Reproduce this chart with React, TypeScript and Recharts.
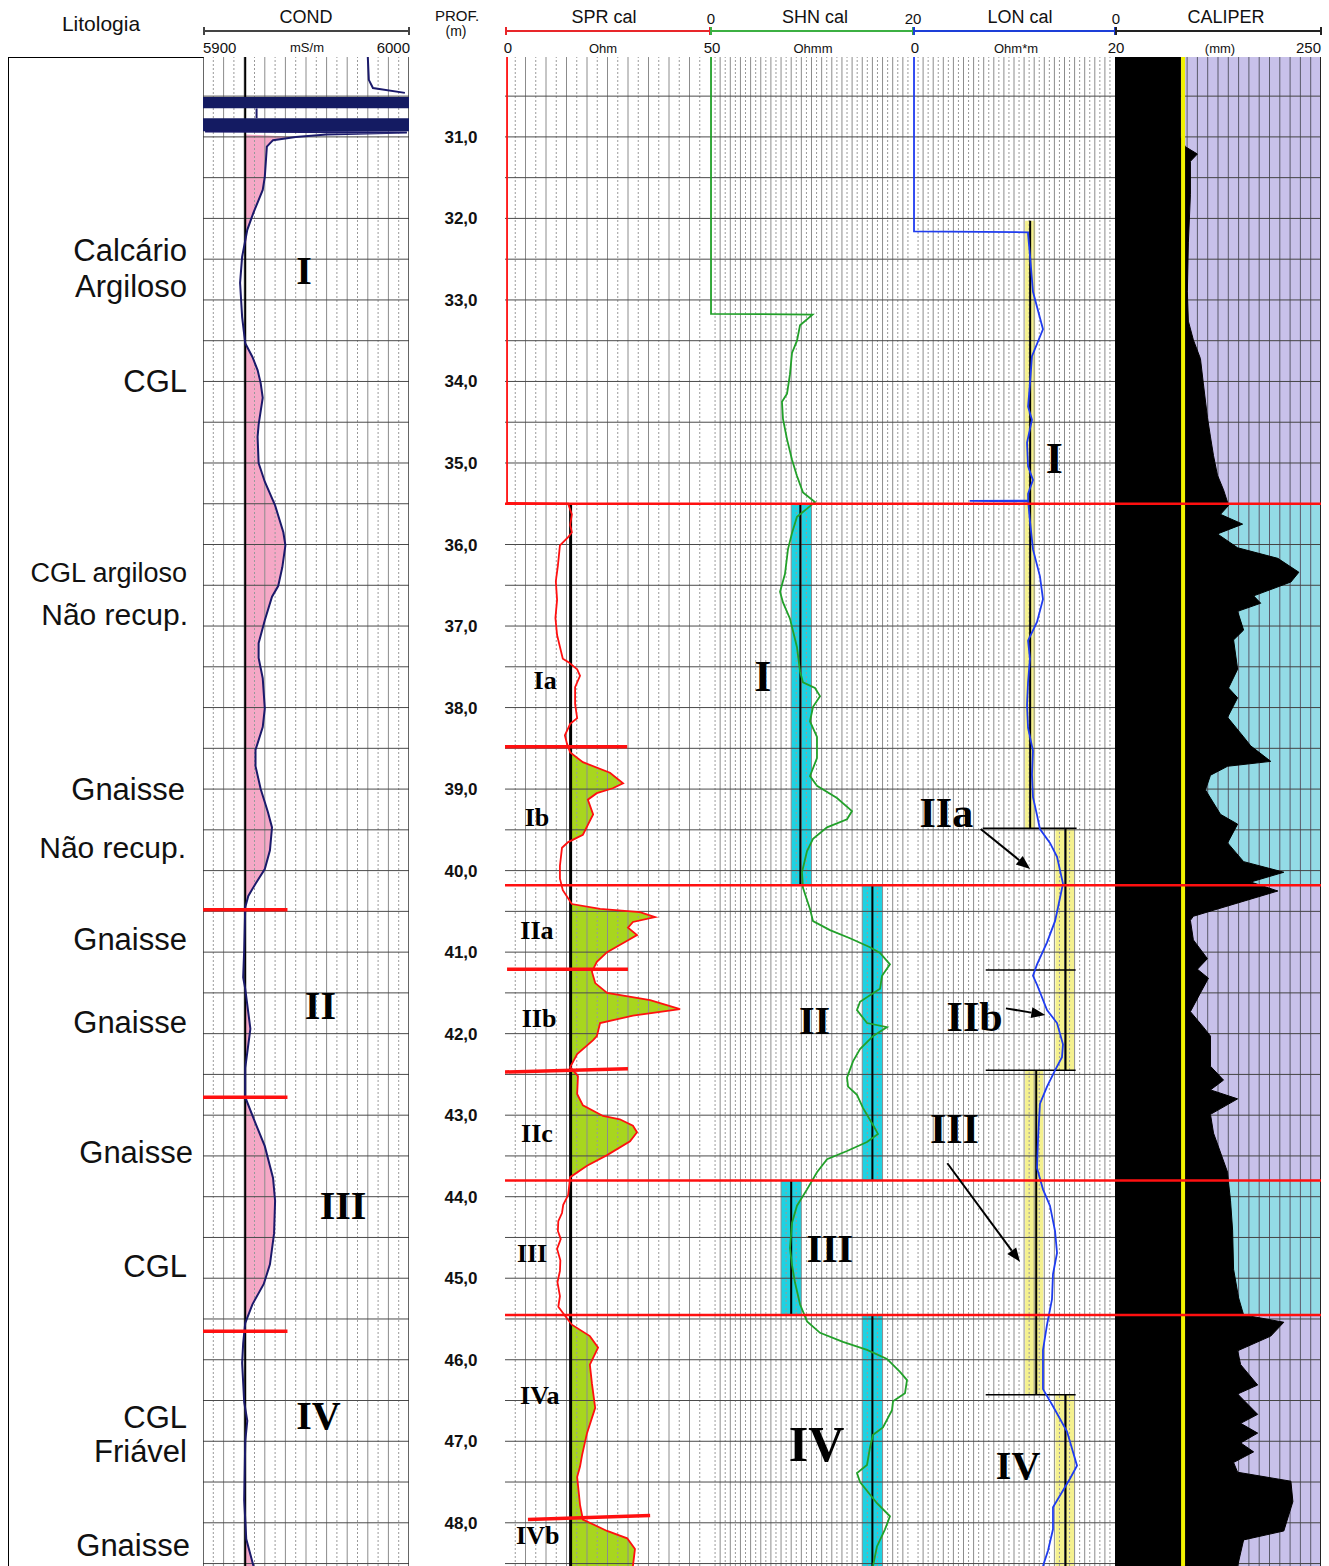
import React from 'react';
import {
  ComposedChart,
  Line,
  Area,
  XAxis,
  YAxis,
  ReferenceLine,
  ReferenceArea,
  ReferenceDot,
} from 'recharts';

// depth window of the plot (m)
const TOP = 30.02;
const BOTTOM = 48.53;
const PLOT_H = 1509;

const SANS = "'Liberation Sans', Arial, sans-serif";
const SERIF = "'Liberation Serif', 'Times New Roman', serif";

// [depth (m), value]
const condTopLog: [number, number][] = [
  [30.02, 5980], [30.3, 5980.5], [30.4, 5982.5], [30.46, 5998],
];

const condLog: [number, number][] = [
  [30.935, 5901], [30.945, 5999], [30.97, 5960], [31.0, 5945], [31.04, 5934],
  [31.12, 5931], [31.49, 5930], [31.65, 5929], [31.93, 5924.5], [32.14, 5921.5],
  [32.47, 5919], [32.79, 5918], [33.21, 5919], [33.53, 5920.5], [33.7, 5924],
  [33.86, 5926.5], [34.02, 5928], [34.2, 5929], [34.53, 5927], [34.68, 5926.5],
  [35.0, 5927], [35.23, 5930], [35.52, 5935], [35.85, 5939], [36.01, 5940],
  [36.28, 5938.5], [36.51, 5936.5], [36.64, 5933.5], [36.93, 5930], [37.21, 5927],
  [37.39, 5927], [37.64, 5929], [38.01, 5930], [38.24, 5929], [38.52, 5925.5],
  [38.72, 5925.5], [39.0, 5928], [39.28, 5931.5], [39.47, 5933.5], [39.75, 5932.5],
  [39.98, 5930], [40.16, 5925.5], [40.31, 5922], [40.45, 5920.5], [40.97, 5920],
  [41.31, 5919.5], [41.45, 5920.5], [41.94, 5923], [42.23, 5921.5], [42.42, 5920.5],
  [42.78, 5920.5], [43.1, 5925.5], [43.38, 5930], [43.77, 5934], [44.05, 5935],
  [44.45, 5934.5], [44.83, 5932.5], [45.07, 5929.5], [45.32, 5924], [45.55, 5920.5],
  [45.8, 5919.5], [46.04, 5919], [46.52, 5920], [46.75, 5921.5], [47.0, 5920.5],
  [47.72, 5920], [48.2, 5921], [48.53, 5924.5],
];

const sprLog: [number, number][] = [
  [30.02, 0.5], [35.49, 0.5], [35.5, 15.4], [35.63, 16.3], [35.76, 15.9], [35.85, 16.3],
  [35.91, 15.4], [36.01, 13.4], [36.26, 12.9], [36.45, 12.4], [36.68, 12.7], [36.9, 12.3],
  [37.11, 12.7], [37.4, 14.1], [37.44, 15.4], [37.53, 17.6], [37.61, 18.3], [37.75, 17.1],
  [37.96, 17.1], [38.13, 17.6], [38.2, 15.9], [38.34, 14.6], [38.44, 15.1], [38.55, 15.9],
  [38.67, 19.0], [38.8, 25.6], [38.93, 28.8], [38.99, 26.3], [39.05, 22.4], [39.13, 20.2],
  [39.31, 21.5], [39.39, 20.7], [39.56, 19.0], [39.65, 15.4], [39.72, 13.9], [39.94, 13.4],
  [40.1, 13.4], [40.24, 14.1], [40.41, 16.3], [40.47, 23.2], [40.51, 32.9], [40.57, 36.6],
  [40.63, 31.2], [40.7, 30.0], [40.79, 32.2], [40.86, 29.8], [41.0, 24.9], [41.12, 22.4],
  [41.24, 21.2], [41.38, 22.0], [41.5, 24.9], [41.59, 35.4], [41.7, 42.7], [41.78, 31.2],
  [41.87, 23.2], [42.03, 22.4], [42.08, 21.5], [42.25, 17.6], [42.41, 15.9], [42.52, 17.8],
  [42.74, 17.6], [42.88, 19.0], [43.01, 23.9], [43.05, 28.0], [43.13, 31.2], [43.21, 32.2],
  [43.32, 30.5], [43.49, 24.9], [43.62, 20.0], [43.76, 15.9], [43.98, 15.4], [44.1, 14.2],
  [44.2, 13.9], [44.3, 13.0], [44.42, 12.9], [44.52, 13.6], [44.64, 12.7], [44.78, 13.5],
  [44.91, 13.4], [45.05, 12.8], [45.22, 13.4], [45.35, 13.0], [45.49, 15.1], [45.57, 16.3],
  [45.71, 20.7], [45.85, 22.7], [46.06, 20.7], [46.29, 21.2], [46.59, 22.0], [46.9, 20.0],
  [47.17, 18.8], [47.31, 18.3], [47.44, 17.6], [47.78, 18.3], [47.96, 19.0], [48.1, 24.9],
  [48.19, 29.8], [48.32, 31.7], [48.53, 31.2],
];

const shnLog: [number, number][] = [
  [30.02, 0.1], [33.17, 0.1], [33.18, 10.1], [33.31, 8.87], [33.5, 8.57], [33.65, 8.08],
  [33.91, 7.88], [34.15, 7.59], [34.25, 7.09], [34.46, 7.19], [34.71, 7.59], [34.96, 8.08],
  [35.16, 8.57], [35.36, 9.16], [35.48, 10.34], [35.56, 9.56], [35.66, 8.57], [35.86, 8.08],
  [36.06, 7.68], [36.36, 7.39], [36.58, 6.9], [36.71, 7.19], [36.91, 7.88], [37.26, 8.57],
  [37.56, 8.87], [37.69, 9.16], [37.76, 10.34], [37.86, 10.84], [37.99, 10.15], [38.17, 9.85],
  [38.36, 10.54], [38.62, 10.54], [38.84, 9.85], [38.96, 10.54], [39.11, 12.51], [39.27, 13.99],
  [39.37, 13.5], [39.47, 11.53], [39.61, 10.15], [39.76, 9.56], [40.02, 9.06], [40.21, 9.16],
  [40.47, 9.85], [40.62, 10.15], [40.73, 11.82], [40.83, 13.79], [40.94, 15.76], [41.01, 16.75],
  [41.15, 17.73], [41.29, 16.95], [41.45, 16.75], [41.61, 14.78], [41.71, 14.48], [41.87, 15.47],
  [41.92, 17.44], [42.03, 16.06], [42.19, 14.78], [42.34, 14.09], [42.54, 13.5], [42.65, 13.6],
  [42.75, 14.48], [42.91, 15.07], [43.12, 16.06], [43.23, 16.55], [43.33, 15.47], [43.44, 13.5],
  [43.54, 11.53], [43.7, 10.54], [43.91, 9.56], [44.11, 8.57], [44.32, 8.08], [44.63, 7.88],
  [44.84, 8.08], [45.05, 8.37], [45.32, 8.87], [45.53, 9.56], [45.67, 10.84], [45.78, 13.1],
  [45.88, 15.47], [45.99, 17.44], [46.15, 18.72], [46.25, 19.41], [46.41, 19.21], [46.51, 18.03],
  [46.62, 17.93], [46.83, 17.04], [46.92, 16.06], [47.08, 15.76], [47.29, 15.47], [47.39, 14.48],
  [47.5, 14.78], [47.76, 16.45], [47.92, 17.73], [48.08, 17.24], [48.29, 16.45], [48.53, 16.06],
];

const lonLog: [number, number][] = [
  [30.02, 0.1], [32.16, 0.1], [32.17, 11.4], [32.19, 11.39], [32.45, 11.58], [32.9, 11.88],
  [33.36, 12.87], [33.69, 11.78], [34.03, 11.58], [34.31, 11.39], [34.47, 11.78], [34.75, 11.29],
  [35.04, 11.39], [35.21, 11.88], [35.38, 11.39], [35.46, 11.4], [35.465, 5.6], [35.47, 11.4],
  [35.71, 11.58], [36.06, 11.88], [36.39, 12.57], [36.67, 12.87], [36.95, 12.28], [37.18, 11.39],
  [37.4, 11.58], [37.69, 11.39], [37.97, 11.29], [38.25, 11.39], [38.53, 11.88], [38.82, 11.78],
  [39.1, 11.88], [39.32, 12.28], [39.49, 12.57], [39.66, 13.56], [39.83, 14.26], [40.16, 14.85],
  [40.45, 14.36], [40.62, 14.06], [40.88, 13.27], [41.15, 12.28], [41.29, 11.88], [41.4, 12.28],
  [41.71, 13.27], [41.87, 14.26], [42.13, 14.85], [42.29, 14.75], [42.45, 14.06], [42.65, 13.27],
  [42.86, 12.57], [43.28, 12.38], [43.65, 12.28], [43.91, 12.87], [44.11, 13.56], [44.42, 14.06],
  [44.69, 14.26], [44.95, 13.86], [45.26, 13.76], [45.57, 13.27], [45.88, 12.87], [46.36, 12.87],
  [46.57, 13.86], [46.88, 15.25], [47.3, 16.24], [47.46, 15.54], [47.81, 13.86], [48.08, 13.86],
  [48.34, 13.37], [48.53, 12.87],
];

const caliperLog: [number, number][] = [
  [30.02, 93], [31.0, 93], [31.12, 98.5], [31.21, 112], [31.3, 104.2], [31.71, 104.2],
  [32.3, 101.9], [32.9, 100.8], [33.26, 101.9], [33.49, 107.5], [33.72, 115.4], [34.03, 118.7],
  [34.44, 123.2], [34.68, 126.6], [34.91, 130], [35.15, 134.4], [35.33, 141.2], [35.52, 146.8],
  [35.63, 137.8], [35.75, 162.5], [35.87, 134.4], [36.04, 156.9], [36.17, 201.8], [36.34, 225.3],
  [36.46, 216.4], [36.63, 174.8], [36.72, 182.7], [36.82, 156.9], [37.05, 163.6], [37.17, 152.4],
  [37.53, 156.9], [37.76, 146.8], [37.88, 156.9], [38.12, 145.7], [38.36, 163.6], [38.47, 171.5],
  [38.66, 193.9], [38.72, 145.7], [38.83, 126.6], [39.01, 121], [39.31, 137.8], [39.43, 156.9],
  [39.66, 145.7], [39.89, 163.6], [40.02, 208.5], [40.14, 171.5], [40.25, 201.8], [40.56, 107.5],
  [40.61, 104.2], [40.85, 107.5], [41.08, 123.2], [41.21, 112], [41.32, 124.3], [41.5, 115.4],
  [41.73, 104.2], [41.92, 118.7], [42.03, 126.6], [42.4, 126.6], [42.57, 141.2], [42.69, 126.6],
  [42.8, 156.9], [42.99, 126.6], [43.22, 130], [43.7, 145.7], [43.83, 146.8], [44.05, 149],
  [44.41, 151.3], [44.89, 152.4], [45.24, 158], [45.45, 163.6], [45.54, 208.5], [45.71, 193.9],
  [45.89, 156.9], [46.06, 160.3], [46.31, 179.3], [46.42, 156.9], [46.67, 179.3], [46.78, 160.3],
  [46.9, 179.3], [47.02, 160.3], [47.13, 174.8], [47.26, 152.4], [47.38, 156.9], [47.49, 216.4],
  [47.74, 218.6], [48.1, 208.5], [48.21, 163.6], [48.53, 156.9],
];

const condBase = 5920.5;
const sprBase = 16;
const bitSize = 96;
const sprFillZones: [number, number][] = [[38.55, 39.7], [40.3, 43.8], [45.45, 48.53]];
const zoneBounds = [35.5, 40.18, 43.8, 45.45];
const condMarks = [40.48, 42.78, 45.65];
const sprMarks: [number, number, number, number][] = [
  [0, 38.48, 29.8, 38.48], [0.5, 41.21, 30, 41.21], [0, 42.47, 30, 42.43], [5.6, 47.96, 35.4, 47.91],
];
// [from, to, low, high, centre]
const shnBands: [number, number, number, number, number][] = [
  [35.5, 40.18, 8, 10, 8.9], [40.18, 43.8, 15, 17, 16], [43.8, 45.45, 7, 9, 8], [45.45, 48.53, 15, 17, 16],
];
const lonBands: [number, number, number, number, number][] = [
  [32.03, 39.48, 11.1, 12.1, 11.6], [39.48, 42.45, 14.1, 16.0, 15.1],
  [42.45, 46.43, 11.1, 12.9, 12.2], [46.43, 48.53, 14.1, 16.0, 15.1],
];
const lonTicks: [number, number, number][] = [[39.48, 6.9, 16.2], [41.22, 7.2, 16.1], [42.45, 7.2, 16.1], [46.43, 7.2, 16.1]];
const lonArrows: [number, number, number, number][] = [
  [6.7, 39.49, 11.6, 39.98], [9.2, 41.69, 13.1, 41.77], [3.4, 43.59, 10.6, 44.8],
];
const caliperWashouts: [number, number][] = [[35.5, 40.18], [43.8, 45.45]];
const depthTicks = [31, 32, 33, 34, 35, 36, 37, 38, 39, 40, 41, 42, 43, 44, 45, 46, 47, 48];

// [text, value, depth, size]
const condLabels: [string, number, number, number][] = [
  ['I', 5949, 32.63, 40], ['II', 5957, 41.65, 40], ['III', 5968, 44.1, 40], ['IV', 5956, 46.68, 40],
];
const sprLabels: [string, number, number, number][] = [
  ['Ia', 9.8, 37.66, 26], ['Ib', 7.8, 39.34, 26], ['IIa', 7.8, 40.73, 26], ['IIb', 8.3, 41.8, 26],
  ['IIc', 7.8, 43.21, 26], ['III', 6.6, 44.69, 26], ['IVa', 8.5, 46.43, 26], ['IVb', 8.0, 48.15, 26],
];
const shnLabels: [string, number, number, number][] = [
  ['I', 5.2, 37.6, 44], ['II', 10.3, 41.83, 40], ['III', 11.8, 44.63, 40], ['IV', 10.5, 47.03, 50],
];
const lonLabels: [string, number, number, number][] = [
  ['I', 14.0, 34.93, 44], ['IIa', 3.3, 39.28, 42], ['IIb', 6.1, 41.78, 42], ['III', 4.1, 43.16, 42], ['IV', 10.4, 47.29, 40],
];

// [text, right edge, centre y, size]
const lithology: [string, number, number, number][] = [
  ['Calcário', 187, 250, 31], ['Argiloso', 187, 286, 31], ['CGL', 187, 381, 31], ['CGL argiloso', 187, 573, 27],
  ['Não recup.', 188, 615, 30], ['Gnaisse', 185, 789, 31], ['Não recup.', 186, 848, 30], ['Gnaisse', 187, 939, 31],
  ['Gnaisse', 187, 1022, 31], ['Gnaisse', 193, 1152, 31], ['CGL', 187, 1266, 31], ['CGL', 187, 1417, 31],
  ['Friável', 187, 1451, 31], ['Gnaisse', 190, 1545, 31],
];

const RED = '#ff1010';

const vGrid = (key: string, min: number, max: number, step: number, solidEvery: number, solid = '#8c8c8c', dotted = '#9a9a9a') => {
  const out: React.ReactElement[] = [];
  const n = Math.round((max - min) / step);
  for (let i = 1; i < n; i++) {
    const isSolid = i % solidEvery === 0;
    out.push(
      <ReferenceLine
        key={`${key}v${i}`}
        x={min + i * step}
        stroke={isSolid ? solid : dotted}
        strokeWidth={1}
        strokeDasharray={isSolid ? undefined : '2 2'}
        zIndex={-200}
      />
    );
  }
  return out;
};

const hGrid = (key: string, color = '#4a4a4a') => {
  const out: React.ReactElement[] = [];
  for (let d = 30.5; d <= 48.5; d += 0.5) {
    out.push(<ReferenceLine key={`${key}h${d}`} y={d} stroke={color} strokeWidth={1} zIndex={-190} />);
  }
  return out;
};

const labelDots = (key: string, list: [string, number, number, number][]) =>
  list.map(([text, v, d, size], i) => (
    <ReferenceDot
      key={`${key}l${i}`}
      x={v}
      y={d}
      r={0}
      fill="none"
      stroke="none"
      zIndex={2000}
      label={{ value: text, position: 'center', fontFamily: SERIF, fontWeight: 'bold', fontSize: size, fill: '#000' }}
    />
  ));

const redLines = (key: string) =>
  zoneBounds.map((d) => <ReferenceLine key={`${key}r${d}`} y={d} stroke={RED} strokeWidth={2.5} zIndex={900} />);

const arrowShape = (p: any) => {
  const { x1, y1, x2, y2 } = p;
  const a = Math.atan2(y2 - y1, x2 - x1);
  const L = 14;
  const W = 5.5;
  const bx = x2 - L * Math.cos(a);
  const by = y2 - L * Math.sin(a);
  const pts = `${x2},${y2} ${bx - W * Math.sin(a)},${by + W * Math.cos(a)} ${bx + W * Math.sin(a)},${by - W * Math.cos(a)}`;
  return (
    <g>
      <line x1={x1} y1={y1} x2={bx} y2={by} stroke="#000" strokeWidth={2} />
      <polygon points={pts} fill="#000" />
    </g>
  );
};

const depthAxis = <YAxis type="number" dataKey="d" domain={[TOP, BOTTOM]} allowDataOverflow hide />;

const T = ({ x, y, size, children, anchor = 'middle', bold = false }: any) => (
  <div
    style={{
      position: 'absolute',
      left: x,
      top: y,
      fontSize: size,
      fontWeight: bold ? 'bold' : 'normal',
      lineHeight: 1,
      whiteSpace: 'nowrap',
      transform: `translate(${anchor === 'middle' ? '-50%' : anchor === 'end' ? '-100%' : '0'}, -50%)`,
    }}
  >
    {children}
  </div>
);

const Bar = ({ x1, x2, color }: any) => (
  <>
    <div style={{ position: 'absolute', left: x1, top: 30, width: x2 - x1, height: 2, background: color }} />
    <div style={{ position: 'absolute', left: x1, top: 27, width: 2, height: 8, background: color }} />
    <div style={{ position: 'absolute', left: x2 - 2, top: 27, width: 2, height: 8, background: color }} />
  </>
);

export default function App() {
  const condTopRows = condTopLog.map(([d, v]) => ({ d, v }));
  const condRows = condLog.map(([d, v]) => ({
    d,
    v,
    fill: d >= 31 ? [condBase, Math.max(v, condBase)] : [condBase, condBase],
  }));
  const sprRows = sprLog.map(([d, v]) => {
    const inZone = sprFillZones.some(([a, b]) => d >= a && d <= b);
    return { d, v, fill: inZone ? [sprBase, Math.max(v, sprBase)] : [sprBase, sprBase] };
  });
  const shnRows = shnLog.map(([d, v]) => ({ d, v }));
  const lonRows = lonLog.map(([d, v]) => ({ d, v }));
  const calRows = caliperLog.map(([d, v]) => ({ d, v, fill: [20, v] }));

  return (
    <div style={{ position: 'absolute', left: 0, top: 0, width: 1329, height: 1566, background: '#fff', fontFamily: SANS, color: '#111', overflow: 'hidden' }}>
      {/* header */}
      <T x={101} y={23} size={21}>Litologia</T>
      <T x={306} y={17} size={18}>COND</T>
      <Bar x1={203} x2={410} color="#444" />
      <T x={203} y={47} size={15} anchor="start">5900</T>
      <T x={307} y={47} size={13}>mS/m</T>
      <T x={410} y={47} size={15} anchor="end">6000</T>
      <T x={457} y={15} size={15}>PROF.</T>
      <T x={456} y={31} size={14}>(m)</T>
      <T x={604} y={17} size={18}>SPR cal</T>
      <T x={711} y={18} size={15}>0</T>
      <T x={815} y={17} size={18}>SHN cal</T>
      <T x={913} y={18} size={15}>20</T>
      <T x={1020} y={17} size={18}>LON cal</T>
      <T x={1116} y={18} size={15}>0</T>
      <T x={1226} y={17} size={18}>CALIPER</T>
      <Bar x1={505} x2={711} color="#e8262a" />
      <Bar x1={710} x2={914} color="#3cb043" />
      <Bar x1={913} x2={1116} color="#1d3fd8" />
      <Bar x1={1115} x2={1322} color="#222" />
      <T x={508} y={47} size={15}>0</T>
      <T x={603} y={48} size={13}>Ohm</T>
      <T x={712} y={47} size={15}>50</T>
      <T x={813} y={48} size={13}>Ohmm</T>
      <T x={915} y={47} size={15}>0</T>
      <T x={1016} y={48} size={13}>Ohm*m</T>
      <T x={1116} y={47} size={15}>20</T>
      <T x={1220} y={48} size={13}>(mm)</T>
      <T x={1321} y={47} size={15} anchor="end">250</T>

      {/* lithology column */}
      <div style={{ position: 'absolute', left: 8, top: 57, width: 196, height: 1509, borderTop: '1.5px solid #000', borderLeft: '1.5px solid #000', boxSizing: 'border-box' }} />
      {lithology.map(([text, right, y, size], i) => (
        <T key={i} x={right} y={y} size={size} anchor="end">{text}</T>
      ))}

      {/* COND */}
      <div style={{ position: 'absolute', left: 203, top: 57 }}>
        <ComposedChart layout="vertical" width={206} height={PLOT_H} data={condRows} margin={{ top: 0, right: 0, bottom: 0, left: 0 }}>
          <XAxis type="number" domain={[5900, 6000]} allowDataOverflow hide />
          {depthAxis}
          <Area dataKey="fill" type="linear" fill="#f5a8c6" fillOpacity={1} stroke="none" isAnimationActive={false} zIndex={-250} />
          {vGrid('c', 5900, 6000, 5, 2)}
          {hGrid('c')}
          <ReferenceLine x={5900} stroke="#333" strokeWidth={1.5} zIndex={-180} />
          <ReferenceLine x={6000} stroke="#333" strokeWidth={1.5} zIndex={-180} />
          <ReferenceLine x={condBase} stroke="#000" strokeWidth={2} zIndex={-170} />
          <ReferenceArea x1={5900} x2={6000} y1={30.51} y2={30.65} fill="#141b62" fillOpacity={1} stroke="none" zIndex={300} />
          <ReferenceArea x1={5900} x2={6000} y1={30.77} y2={30.93} fill="#141b62" fillOpacity={1} stroke="none" zIndex={300} />
          <ReferenceLine segment={[{ x: 5926, y: 30.65 }, { x: 5926, y: 30.77 }]} stroke="#1b1a6b" strokeWidth={2} zIndex={300} />
          <Line data={condTopRows} dataKey="v" type="linear" stroke="#1b1a6b" strokeWidth={2} dot={false} isAnimationActive={false} />
          <Line dataKey="v" type="linear" stroke="#1b1a6b" strokeWidth={2} dot={false} isAnimationActive={false} />
          {condMarks.map((d) => (
            <ReferenceLine key={`cm${d}`} segment={[{ x: 5900, y: d }, { x: 5941, y: d }]} stroke={RED} strokeWidth={3.5} zIndex={900} />
          ))}
          {labelDots('c', condLabels)}
        </ComposedChart>
      </div>

      {/* SPR */}
      <div style={{ position: 'absolute', left: 410, top: 57 }}>
        <ComposedChart layout="vertical" width={300} height={PLOT_H} data={sprRows} margin={{ top: 0, right: 0, bottom: 0, left: 0 }}>
          <XAxis type="number" domain={[0, 50]} allowDataOverflow hide />
          <YAxis
            type="number"
            dataKey="d"
            domain={[TOP, BOTTOM]}
            allowDataOverflow
            width={95}
            ticks={depthTicks}
            interval={0}
            axisLine={false}
            tickLine={false}
            tickSize={0}
            tickMargin={44}
            tick={{ fontSize: 17, fontWeight: 'bold', fill: '#111', fontFamily: SANS, textAnchor: 'middle' }}
            tickFormatter={(v: number) => v.toFixed(1).replace('.', ',')}
          />
          <Area dataKey="fill" type="linear" fill="#a8d61e" fillOpacity={1} stroke="none" isAnimationActive={false} zIndex={-250} />
          {vGrid('s', 0, 50, 2.5, 2)}
          {hGrid('s')}
          <ReferenceLine segment={[{ x: sprBase, y: 35.5 }, { x: sprBase, y: BOTTOM }]} stroke="#000" strokeWidth={3} zIndex={-170} />
          <Line dataKey="v" type="linear" stroke={RED} strokeWidth={1.8} dot={false} isAnimationActive={false} />
          {redLines('s')}
          {sprMarks.map(([x1, y1, x2, y2], i) => (
            <ReferenceLine key={`sm${i}`} segment={[{ x: x1, y: y1 }, { x: x2, y: y2 }]} stroke={RED} strokeWidth={3.5} zIndex={900} />
          ))}
          {labelDots('s', sprLabels)}
        </ComposedChart>
      </div>

      {/* SHN */}
      <div style={{ position: 'absolute', left: 710, top: 57 }}>
        <ComposedChart layout="vertical" width={203} height={PLOT_H} data={shnRows} margin={{ top: 0, right: 0, bottom: 0, left: 0 }}>
          <XAxis type="number" domain={[0, 20]} allowDataOverflow hide />
          {depthAxis}
          {shnBands.map(([a, b, lo, hi]) => (
            <ReferenceArea key={`sb${a}`} x1={lo} x2={hi} y1={a} y2={b} fill="#1fd2e2" fillOpacity={1} stroke="none" zIndex={-250} />
          ))}
          {vGrid('h', 0, 20, 0.5, 2)}
          {hGrid('h')}
          {shnBands.map(([a, b, , , mid]) => (
            <ReferenceLine key={`sc${a}`} segment={[{ x: mid, y: a }, { x: mid, y: b }]} stroke="#000" strokeWidth={2} zIndex={-170} />
          ))}
          <Line dataKey="v" type="linear" stroke="#22a12a" strokeWidth={1.8} dot={false} isAnimationActive={false} />
          {redLines('h')}
          {labelDots('h', shnLabels)}
        </ComposedChart>
      </div>

      {/* LON */}
      <div style={{ position: 'absolute', left: 913, top: 57 }}>
        <ComposedChart layout="vertical" width={202} height={PLOT_H} data={lonRows} margin={{ top: 0, right: 0, bottom: 0, left: 0 }}>
          <XAxis type="number" domain={[0, 20]} allowDataOverflow hide />
          {depthAxis}
          {lonBands.map(([a, b, lo, hi]) => (
            <ReferenceArea key={`lb${a}`} x1={lo} x2={hi} y1={a} y2={b} fill="#f5f18e" fillOpacity={1} stroke="none" zIndex={-250} />
          ))}
          {vGrid('l', 0, 20, 0.5, 2)}
          {hGrid('l')}
          {lonBands.map(([a, b, , , mid]) => (
            <ReferenceLine key={`lc${a}`} segment={[{ x: mid, y: a }, { x: mid, y: b }]} stroke="#000" strokeWidth={2} zIndex={-170} />
          ))}
          {lonTicks.map(([d, a, b]) => (
            <ReferenceLine key={`lt${d}`} segment={[{ x: a, y: d }, { x: b, y: d }]} stroke="#000" strokeWidth={1.5} zIndex={-160} />
          ))}
          <Line dataKey="v" type="linear" stroke="#1f3cf0" strokeWidth={1.8} dot={false} isAnimationActive={false} />
          {redLines('l')}
          {lonArrows.map(([x1, y1, x2, y2], i) => (
            <ReferenceLine key={`la${i}`} segment={[{ x: x1, y: y1 }, { x: x2, y: y2 }]} shape={arrowShape} zIndex={1000} />
          ))}
          {labelDots('l', lonLabels)}
        </ComposedChart>
      </div>

      {/* CALIPER */}
      <div style={{ position: 'absolute', left: 1115, top: 57 }}>
        <ComposedChart layout="vertical" width={206} height={PLOT_H} data={calRows} margin={{ top: 0, right: 0, bottom: 0, left: 0 }}>
          <XAxis type="number" domain={[20, 250]} allowDataOverflow hide />
          {depthAxis}
          <ReferenceArea x1={20} x2={250} y1={TOP} y2={BOTTOM} fill="#c8c1ea" fillOpacity={1} stroke="none" zIndex={-300} />
          {caliperWashouts.map(([a, b]) => (
            <ReferenceArea key={`cw${a}`} x1={20} x2={250} y1={a} y2={b} fill="#93dbe6" fillOpacity={1} stroke="none" zIndex={-290} />
          ))}
          {vGrid('k', 20, 250, 11.5, 1, '#5a5a6a', '#5a5a6a')}
          {hGrid('k', '#444')}
          <ReferenceLine x={250} stroke="#222" strokeWidth={2} zIndex={-150} />
          <Area dataKey="fill" type="linear" fill="#000" fillOpacity={1} stroke="#000" strokeWidth={1} isAnimationActive={false} zIndex={100} />
          <ReferenceLine x={bitSize} stroke="#f2f200" strokeWidth={4} zIndex={800} />
          {redLines('k')}
        </ComposedChart>
      </div>
    </div>
  );
}
